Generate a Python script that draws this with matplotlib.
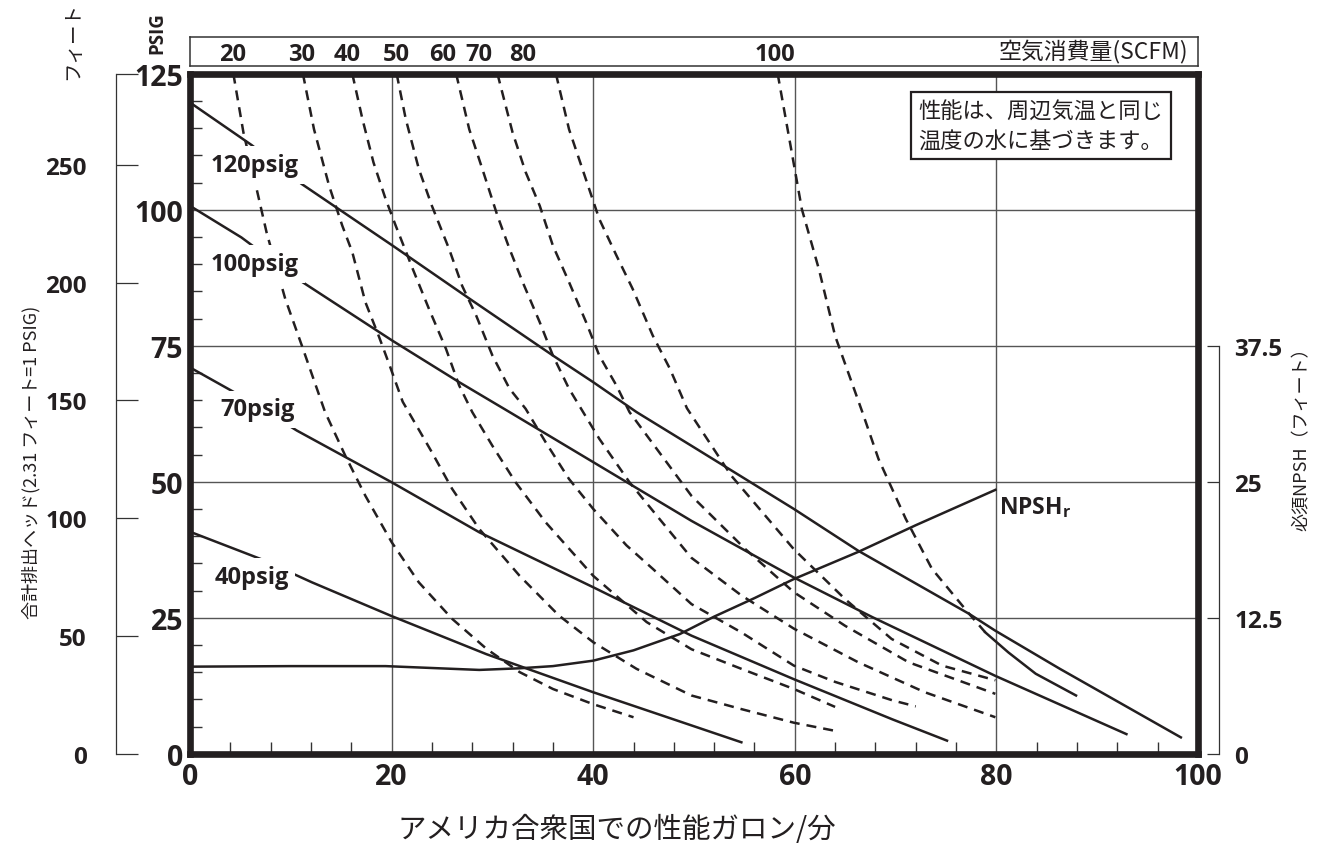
import numpy as np
import matplotlib
matplotlib.use('Agg')
import matplotlib.pyplot as plt
from matplotlib.ticker import MultipleLocator

plt.rcParams['font.family'] = ['Open Sans', 'Noto Sans CJK JP', 'DejaVu Sans']
plt.rcParams['mathtext.fontset'] = 'custom'
plt.rcParams['mathtext.bf'] = 'Open Sans:bold'
plt.rcParams['mathtext.rm'] = 'Open Sans'
JP = ['Noto Sans CJK JP', 'DejaVu Sans']
INK = '#231f20'

# discharge head curves (GPM, PSIG)
h120_gpm = [0, 6.1, 11.1, 20.1, 28.0, 36.0, 40.0, 44.3, 49.75, 59.9, 66.3, 77.3, 79.9, 86.3, 98.3]
h120_psi = [119.7, 111.9, 104.7, 93.4, 83.3, 73.2, 68.3, 62.8, 56.6, 45.0, 37.3, 25.7, 22.6, 15.6, 3.0]
h100_gpm = [0, 5.1, 10.4, 20.1, 26.7, 31.7, 40.0, 49.75, 59.9, 67.7, 79.9, 92.9]
h100_psi = [100.7, 94.9, 87.6, 75.9, 68.3, 62.8, 53.6, 42.8, 32.4, 25.1, 14.3, 3.6]
h70_gpm = [0, 5.3, 10.6, 20.0, 28.7, 40.0, 49.75, 59.9, 69.7, 75.1]
h70_psi = [71.0, 65.5, 59.4, 49.9, 40.7, 30.6, 21.7, 13.7, 6.3, 2.4]
h40_gpm = [0, 7.0, 12.1, 20.0, 29.4, 40.0, 49.75, 54.7]
h40_psi = [40.8, 35.8, 31.5, 25.3, 18.3, 11.3, 5.2, 2.1]

head_curves = [(h120_gpm, h120_psi), (h100_gpm, h100_psi), (h70_gpm, h70_psi), (h40_gpm, h40_psi)]
head_names = ['120psig', '100psig', '70psig', '40psig']
head_label_x = [2.0, 2.0, 3.0, 2.4]
head_label_y = [108.2, 90.0, 63.3, 32.5]

# air consumption curves (SCFM)
s20_gpm = [4.3, 5.3, 6.5, 7.6, 9.45, 11.1, 13.4, 15.4, 17.4, 20.0, 22.7, 26.0, 29.4, 32.7, 36.0, 40.0, 44.0]
s20_psi = [125, 114.2, 104.7, 95.8, 83.6, 75.0, 62.8, 54.8, 47.4, 38.9, 31.5, 24.8, 19.3, 15.0, 11.9, 9.1, 6.7]
s30_gpm = [11.2, 12.3, 13.8, 15.1, 16.1, 17.4, 18.7, 19.8, 21.1, 24.0, 26.0, 28.7, 32.7, 36.6, 40.0, 44.3, 49.75, 54.7, 59.9, 64.0]
s30_psi = [125, 114.8, 104.4, 97.1, 92.2, 83.0, 76.9, 71.4, 64.7, 55.4, 48.7, 41.3, 32.7, 25.4, 20.5, 15.6, 10.7, 8.2, 5.7, 4.2]
s40_gpm = [16.1, 17.1, 18.2, 19.4, 20.4, 22.1, 23.7, 25.4, 26.7, 28.0, 30.0, 32.3, 35.3, 40.0, 45.3, 49.75, 54.7, 59.9, 64.0]
s40_psi = [125, 116.7, 108.7, 102.0, 97.1, 89.1, 81.8, 74.4, 67.7, 62.8, 56.6, 49.9, 42.5, 32.7, 24.2, 19.2, 15.6, 11.9, 8.6]
s50_gpm = [20.5, 21.4, 22.7, 24.0, 25.7, 27.0, 28.4, 30.0, 31.7, 33.3, 35.3, 37.6, 40.0, 43.3, 45.9, 49.75, 54.7, 59.9, 64.0, 69.7, 72.0]
s50_psi = [125, 116.7, 107.5, 100.7, 92.8, 86.0, 80.5, 73.2, 67.1, 63.4, 57.2, 50.5, 45.0, 38.3, 34.0, 27.5, 22.3, 16.2, 13.2, 9.8, 8.7]
s60_gpm = [26.4, 27.7, 29.0, 30.5, 31.7, 33.0, 34.7, 36.0, 37.6, 39.0, 40.6, 43.6, 46.6, 49.75, 54.7, 59.9, 66.3, 72.9, 79.9]
s60_psi = [125, 114.8, 107.5, 98.9, 92.8, 86.7, 79.3, 73.2, 67.1, 62.8, 57.9, 49.9, 43.1, 36.0, 29.1, 23.0, 16.8, 11.3, 6.7]
s70_gpm = [30.5, 32.0, 33.3, 34.7, 36.0, 37.6, 39.3, 40.6, 42.3, 43.6, 49.75, 55.1, 59.9, 65.0, 71.3, 79.9]
s70_psi = [125, 114.2, 106.9, 100.7, 93.4, 86.7, 79.3, 73.2, 67.7, 62.8, 47.4, 37.6, 29.7, 23.5, 16.8, 11.0]
s80_gpm = [36.3, 37.6, 39.6, 40.6, 42.3, 43.9, 45.9, 47.6, 49.3, 53.7, 59.9, 65.0, 69.6, 74.6, 79.9]
s80_psi = [125, 114.8, 103.8, 98.3, 91.6, 85.5, 76.9, 70.8, 63.5, 51.1, 37.6, 28.4, 21.1, 16.2, 13.5]
s100_gpm = [58.3, 59.7, 60.7, 62.4, 64.0, 66.7, 68.3, 71.0, 73.6, 77.3, 78.9]
s100_psi = [125, 110.5, 100.1, 89.0, 76.8, 62.8, 54.2, 43.2, 34.0, 25.7, 22.3]
s100_tail_gpm = [78.9, 81.2, 83.9, 87.9]
s100_tail_psi = [22.3, 18.6, 14.7, 10.7]

air_curves = [(s20_gpm, s20_psi), (s30_gpm, s30_psi), (s40_gpm, s40_psi), (s50_gpm, s50_psi),
              (s60_gpm, s60_psi), (s70_gpm, s70_psi), (s80_gpm, s80_psi), (s100_gpm, s100_psi)]
scfm_labels = ['20', '30', '40', '50', '60', '70', '80', '100']
scfm_label_x = [4.2, 11.1, 15.6, 20.5, 25.1, 28.7, 33.0, 58.0]

# NPSH required (feet)
npsh_gpm = [0, 10, 19.4, 28.7, 32.7, 36.0, 40.0, 44.0, 48.6, 52.0, 56.0, 59.9, 66.3, 72.0, 79.9]
npsh_ft = [8.0, 8.05, 8.05, 7.7, 7.85, 8.05, 8.55, 9.5, 11.0, 12.6, 14.3, 16.05, 18.55, 21.0, 24.25]

psi_ticks = [0, 25, 50, 75, 100, 125]
gpm_ticks = [0, 20, 40, 60, 80, 100]
feet_ticks = [0, 50, 100, 150, 200, 250]
npsh_ticks = [0, 12.5, 25, 37.5]

W, H = 1327, 854
fig = plt.figure(figsize=(W / 100, H / 100), dpi=100)
ax = fig.add_axes([190 / W, 1 - 754.7 / H, 1008 / W, 680 / H])
ax.set_xlim(0, 100)
ax.set_ylim(0, 125)

ax.set_xticks(gpm_ticks)
ax.set_yticks(psi_ticks)
ax.xaxis.set_minor_locator(MultipleLocator(4))
ax.yaxis.set_minor_locator(MultipleLocator(5))
ax.tick_params(which='major', length=0, labelsize=20.5, labelcolor=INK)
ax.tick_params(axis='x', which='major', pad=6)
ax.tick_params(axis='y', which='major', pad=5)
ax.tick_params(which='minor', direction='in', length=8.5, width=1, color='#333333')
for lab in ax.get_xticklabels() + ax.get_yticklabels():
    lab.set_fontweight('bold')
ax.grid(True, which='major', color='#555555', lw=1.0, zorder=0)
ax.set_axisbelow(True)
for s in ax.spines.values():
    s.set_linewidth(4.8)
    s.set_color(INK)
    s.set_capstyle('projecting')
    s.set_zorder(5)

for (gx, gy) in head_curves:
    ax.plot(gx, gy, color=INK, lw=1.8, zorder=2)
for (gx, gy) in air_curves:
    ax.plot(gx, gy, color=INK, lw=1.8, dashes=(4, 2.8), zorder=2)
ax.plot(s100_tail_gpm, s100_tail_psi, color=INK, lw=1.8, zorder=2)

for name, lx, ly in zip(head_names, head_label_x, head_label_y):
    ax.text(lx, ly, name, fontsize=17, fontweight='bold', color=INK, ha='left', va='center',
            zorder=4, bbox=dict(facecolor='white', edgecolor='none', pad=5))

ax.text(84.4, 115.4, '性能は、周辺気温と同じ\n温度の水に基づきます。', family=JP, fontsize=16,
        color=INK, ha='center', va='center', linespacing=1.3, zorder=6,
        bbox=dict(boxstyle='square,pad=0.35', facecolor='white', edgecolor=INK, lw=1.6))

# feet scale on the left
ax_ft = ax.twinx()
ax_ft.set_ylim(0, 125 * 2.31)
ax_ft.yaxis.set_ticks_position('left')
ax_ft.yaxis.set_label_position('left')
for k in ['right', 'top', 'bottom']:
    ax_ft.spines[k].set_visible(False)
ax_ft.spines['left'].set_position(('outward', 53.3))
ax_ft.spines['left'].set_linewidth(0.9)
ax_ft.spines['left'].set_color('#333333')
ax_ft.set_yticks(feet_ticks + [125 * 2.31], labels=[str(t) for t in feet_ticks] + [''])
ax_ft.tick_params(axis='y', direction='in', length=16, width=0.9, color='#333333', pad=21,
                  labelsize=17.5, labelcolor=INK)
for lab in ax_ft.get_yticklabels():
    lab.set_fontweight('bold')

# NPSH scale on the right
ax_np = ax.twinx()
ax_np.set_ylim(0, 62.5)
for k in ['left', 'top', 'bottom']:
    ax_np.spines[k].set_visible(False)
ax_np.spines['right'].set_position(('outward', 15))
ax_np.spines['right'].set_bounds(0, 37.5)
ax_np.spines['right'].set_linewidth(0.9)
ax_np.spines['right'].set_color('#333333')
ax_np.set_yticks(npsh_ticks, labels=['0', '12.5', '25', '37.5'])
ax_np.tick_params(axis='y', direction='in', length=9, width=0.9, color='#333333', pad=11,
                  labelsize=17.5, labelcolor=INK)
for lab in ax_np.get_yticklabels():
    lab.set_fontweight('bold')
ax_np.plot(npsh_gpm, npsh_ft, color=INK, lw=1.8)
ax_np.text(80.3, 22.7, r'$\mathbf{NPSH_r}$', fontsize=16.5, color=INK, ha='left', va='center')

# air consumption scale box
ax_top = fig.add_axes([190 / W, 1 - 67 / H, 1008 / W, 29 / H])
ax_top.set_xlim(0, 100)
ax_top.set_ylim(0, 1)
ax_top.set_xticks([])
ax_top.set_yticks([])
for s in ax_top.spines.values():
    s.set_linewidth(1.1)
    s.set_color('#333333')
for lab, lx in zip(scfm_labels, scfm_label_x):
    ax_top.text(lx, 0.42, lab, fontsize=17, fontweight='bold', color=INK, ha='center', va='center')
ax_top.text(0.99, 0.5, '空気消費量(SCFM)', family=JP, fontsize=16.5, color=INK,
            ha='right', va='center', transform=ax_top.transAxes)

fig.text(157 / W, 1 - 33 / H, 'PSIG', fontsize=13.5, fontweight='bold', color=INK,
         rotation=90, ha='center', va='center')
fig.text(73 / W, 1 - 80 / H, 'フィート', family=JP, fontsize=14, color=INK,
         rotation=90, ha='center', va='bottom')
fig.text(31 / W, 1 - 462 / H, '合計排出ヘッド(2.31 フィート=1 PSIG)', family=JP, fontsize=13,
         color=INK, rotation=90, ha='center', va='center')
fig.text(1302 / W, 1 - 435 / H, '必須NPSH（フィート）', family=JP, fontsize=13,
         color=INK, rotation=90, ha='center', va='center')
fig.text(617 / W, 1 - 830 / H, 'アメリカ合衆国での性能ガロン/分', family=JP, fontsize=20.5,
         color=INK, ha='center', va='center')

fig.savefig('out.png', dpi=100)
